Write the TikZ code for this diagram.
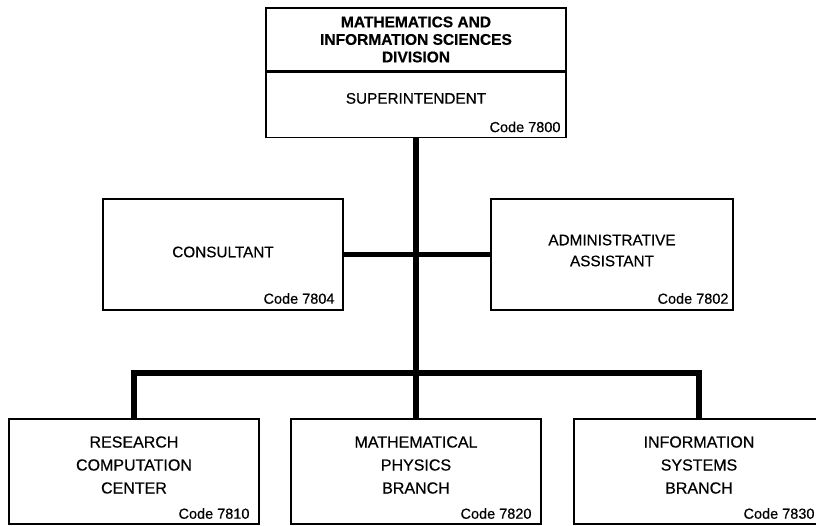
\documentclass[tikz,border=0pt]{standalone}
\usepackage{fontspec}
\setmainfont{Liberation Sans}[FakeBold=0.5]
\usetikzlibrary{positioning}
\tikzset{box/.style={draw,line width=1.4pt,inner sep=0pt},
title/.style={align=center,inner sep=0pt,font=\fontsize{15.3}{21}\selectfont},
code/.style={anchor=base east,inner sep=0pt,font=\fontsize{14.5}{14.5}\selectfont},
bar/.style={line width=5.5pt}}

\begin{document}
\begin{tikzpicture}[x=1pt,y=-1pt]
\useasboundingbox (0,0) rectangle (816,525);
% division head
\node[box,minimum width=300,minimum height=63] (div) at (416,39.5) {};
\node[box,minimum width=300,minimum height=65,below=0pt of div] (supt) {};
\node[title,font=\bfseries\fontsize{15.5}{17.5}\selectfont] (divtext) at (div) {MATHEMATICS AND\\INFORMATION SCIENCES\\DIVISION};
\node[title,yshift=6.5pt] (supttext) at (supt) {SUPERINTENDENT};
\node[code] (suptcode) at ([xshift=-6pt,yshift=6pt]supt.south east) {Code 7800};
% staff
\node[box,minimum width=240,minimum height=111] (cons) at (223,254.5) {};
\node[box,minimum width=242,minimum height=111] (admin) at (612,254.5) {};
\node[title,yshift=2.5pt] (constext) at (cons) {CONSULTANT};
\node[title,yshift=4pt] (admintext) at (admin) {ADMINISTRATIVE\\ASSISTANT};
\node[code] (conscode) at ([xshift=-9pt,yshift=7pt]cons.south east) {Code 7804};
\node[code] (admincode) at ([xshift=-5pt,yshift=7pt]admin.south east) {Code 7802};
% branches
\foreach \n/\x/\t/\c in {rcc/134/RESEARCH\\COMPUTATION\\CENTER/7810,mpb/416/MATHEMATICAL\\PHYSICS\\BRANCH/7820,isb/699/INFORMATION\\SYSTEMS\\BRANCH/7830}{
\node[box,minimum width=250,minimum height=105] (\n) at (\x,471.5) {};
\node[title,font=\fontsize{16}{23}\selectfont,yshift=6.5pt] (\n text) at (\n) {\t};
\node[code] (\n code) at ([xshift=-10pt,yshift=6pt]\n.south east) {Code \c};}
% connectors
\coordinate (hub) at (416,373);
\draw[bar] (supt.south) -- (hub);
\draw[bar] (cons.east) -- (admin.west);
\draw[bar] (rcc.north) |- (hub) -| (isb.north);
\draw[bar] (hub) -- (mpb.north);
\end{tikzpicture}
\end{document}
